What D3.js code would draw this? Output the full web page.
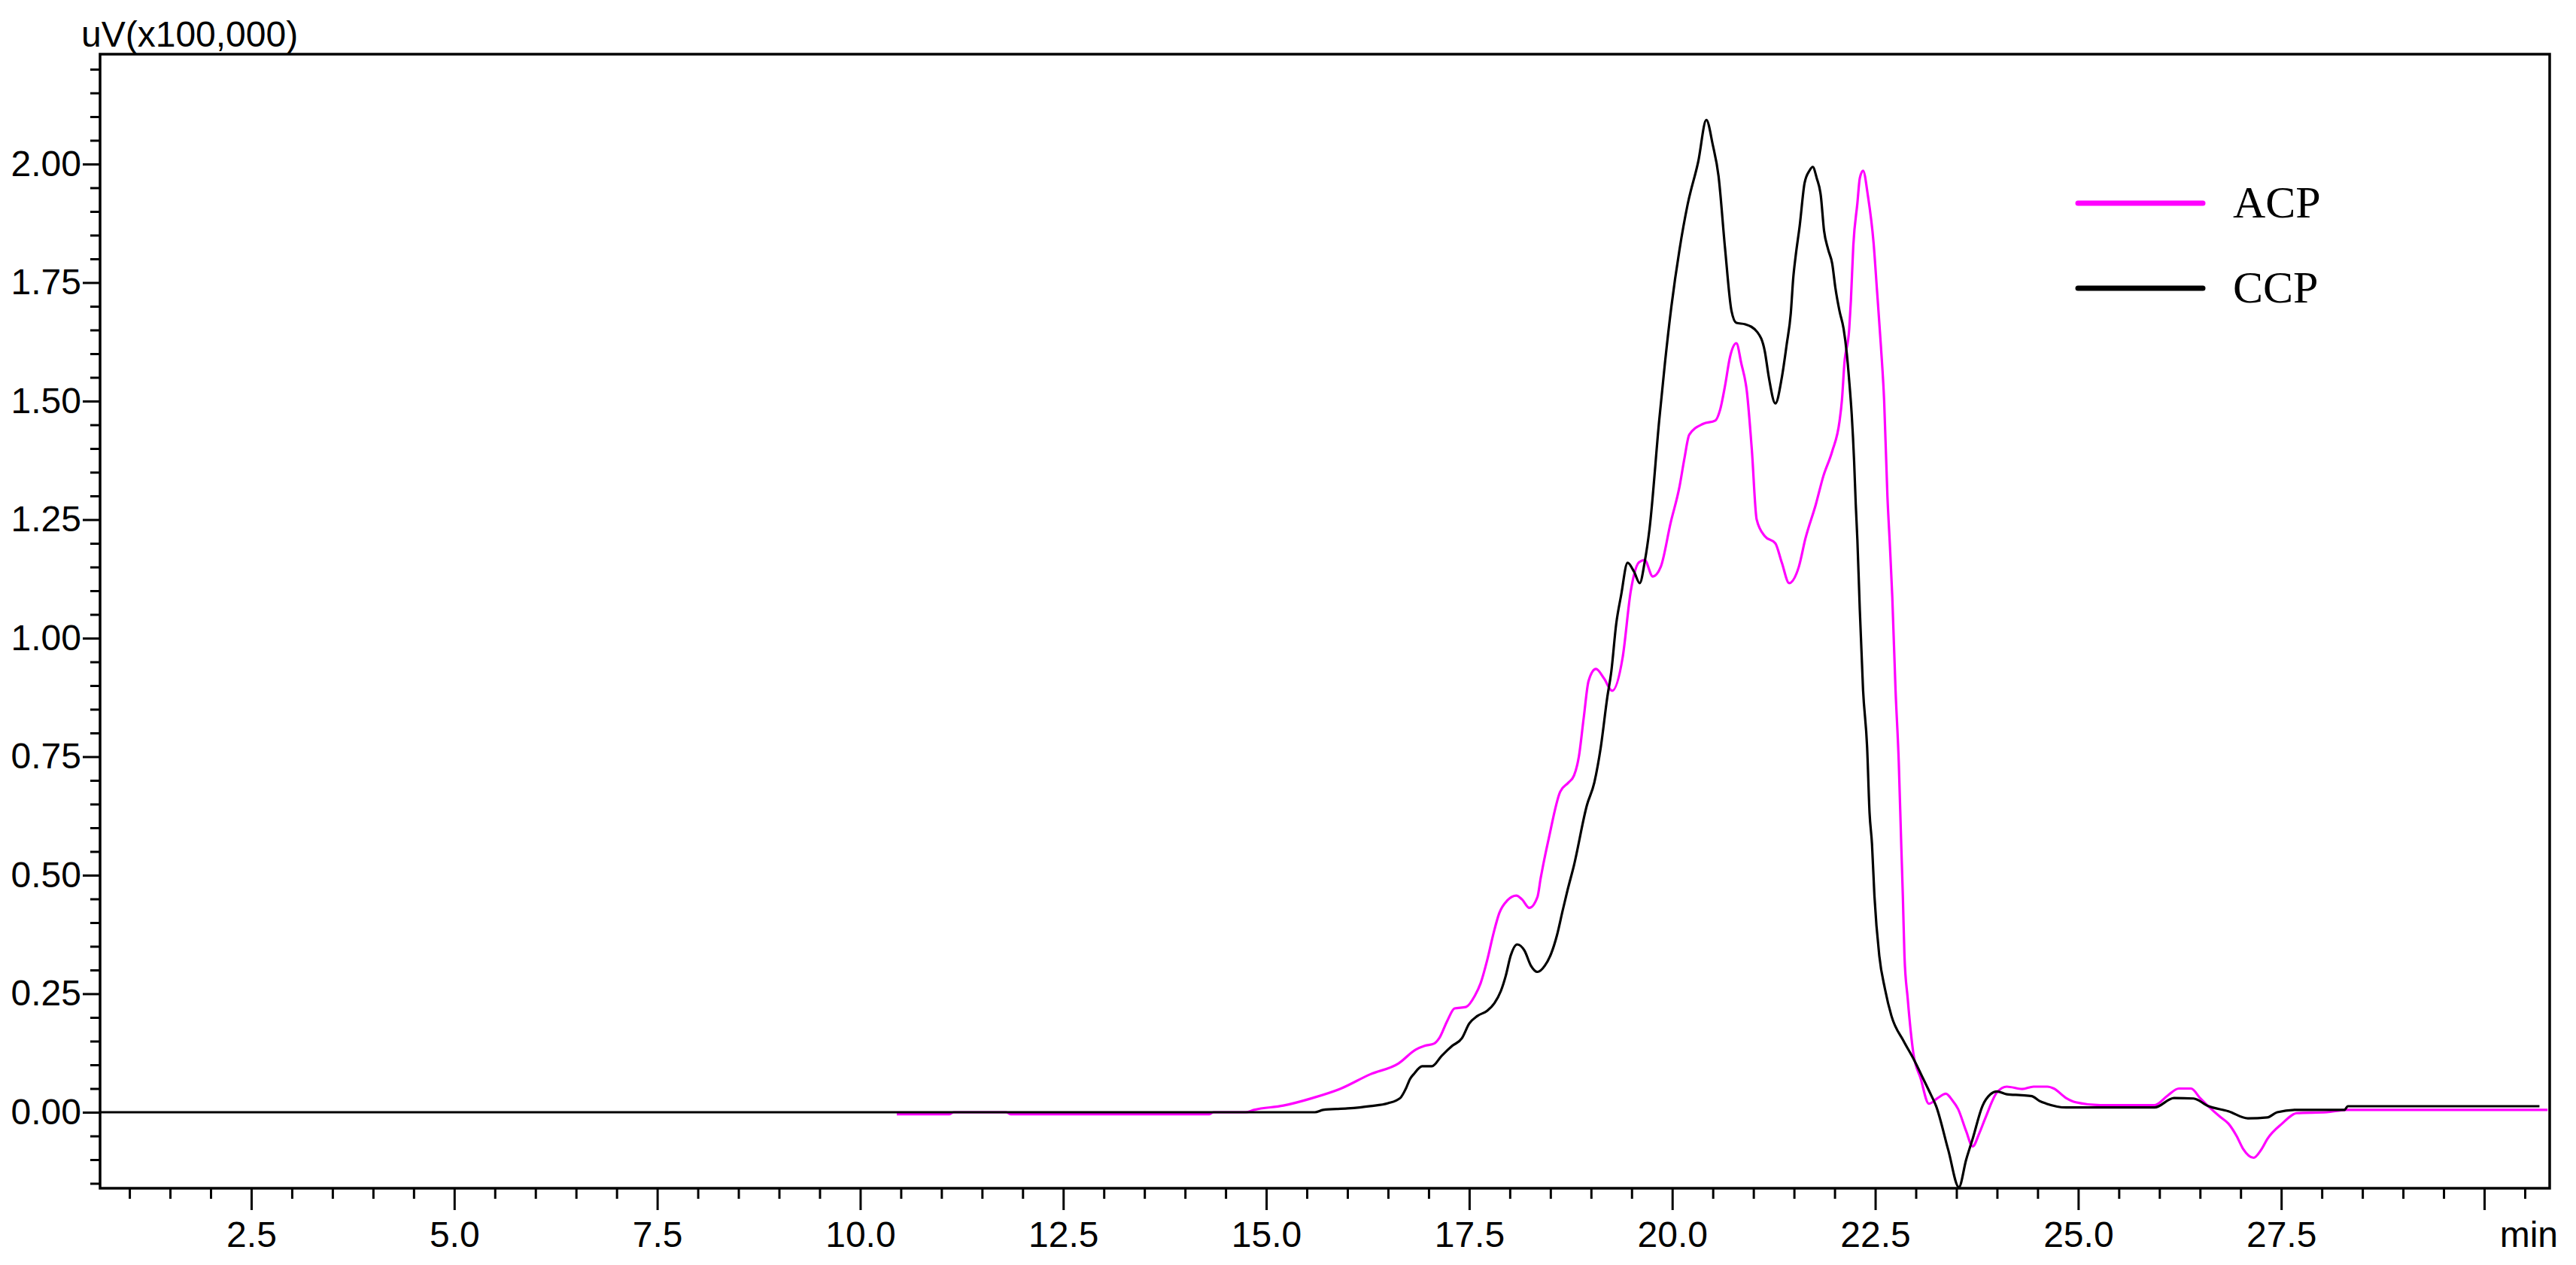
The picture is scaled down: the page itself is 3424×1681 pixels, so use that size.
<!DOCTYPE html>
<html><head><meta charset="utf-8">
<script src="https://cdn.jsdelivr.net/npm/d3@7"></script>
<style>html,body{margin:0;padding:0;background:#fff;} svg{display:block;}</style>
</head><body>
<svg id="chart" width="3424" height="1681"></svg>
<script>
// ---------- data ----------
const seriesNames = ["ACP", "CCP"];
const seriesColors = ["#ff00ff", "#000000"];

// ACP trace: [retention time (min), signal (x100,000 uV)]
const acpPoints = [
  [10.45,-0.004],[11.1,-0.004],[11.15,0],[11.8,0],[11.85,-0.004],[14.3,-0.004],[14.35,0],
  [14.75,0.0],[14.85,0.005],[15.21,0.014],[15.57,0.03],[15.92,0.05],[16.28,0.08],[16.63,0.103],
  [16.84,0.132],[16.95,0.14],[17.07,0.145],[17.13,0.156],[17.23,0.193],[17.32,0.219],[17.46,0.222],
  [17.57,0.246],[17.64,0.272],[17.72,0.32],[17.80,0.378],[17.87,0.42],[17.97,0.447],[18.08,0.457],
  [18.15,0.449],[18.24,0.431],[18.34,0.454],[18.38,0.494],[18.41,0.521],
  [18.48,0.578],[18.62,0.676],[18.72,0.695],[18.79,0.71],[18.85,0.75],[18.91,0.832],[18.97,0.91],
  [19.06,0.935],[19.16,0.915],[19.26,0.889],[19.39,0.96],[19.49,1.10],[19.59,1.16],[19.66,1.165],
  [19.76,1.13],[19.86,1.151],[19.98,1.243],[20.09,1.32],[20.15,1.379],[20.21,1.429],[20.38,1.452],
  [20.53,1.459],[20.59,1.482],[20.65,1.532],[20.71,1.592],[20.79,1.622],[20.85,1.58],[20.92,1.519],
  [20.98,1.398],[21.04,1.25],[21.14,1.215],[21.27,1.20],[21.35,1.159],[21.44,1.116],[21.56,1.151],
  [21.64,1.21],[21.77,1.283],[21.86,1.341],[21.97,1.394],[22.06,1.457],[22.09,1.502],[22.12,1.579],
  [22.18,1.653],[22.20,1.711],[22.23,1.828],[22.28,1.917],[22.31,1.970],[22.35,1.986],[22.41,1.933],
  [22.48,1.833],[22.52,1.738],[22.57,1.616],[22.61,1.50],[22.65,1.30],[22.68,1.198],[22.71,1.087],
  [22.75,0.891],[22.79,0.738],[22.82,0.566],[22.84,0.457],[22.86,0.33],[22.90,0.24],[22.97,0.124],
  [23.06,0.071],[23.16,0.018],[23.27,0.03],[23.37,0.039],[23.45,0.025],[23.52,0.007],[23.62,-0.04],
  [23.70,-0.072],[23.78,-0.045],[23.85,-0.015],[24.0,0.042],[24.12,0.054],[24.31,0.049],[24.45,0.054],
  [24.62,0.054],[24.70,0.05],[24.85,0.03],[24.97,0.021],[25.27,0.015],[25.94,0.015],[26.1,0.035],
  [26.24,0.05],[26.39,0.05],[26.50,0.03],[26.60,0.013],[26.75,-0.01],[26.85,-0.024],[26.95,-0.05],
  [27.03,-0.077],[27.16,-0.096],[27.25,-0.08],[27.33,-0.056],[27.51,-0.024],[27.69,-0.002],
  [28.06,0.0],[28.3,0.005],[30.78,0.005]
];

// CCP trace
const ccpPoints = [
  [0.64,0],[15.6,0],[15.7,0.005],[16.0,0.008],[16.28,0.013],[16.5,0.019],[16.65,0.03],[16.72,0.05],
  [16.77,0.07],[16.82,0.081],[16.92,0.097],[17.04,0.097],[17.16,0.119],[17.29,0.14],[17.41,0.156],
  [17.50,0.187],[17.60,0.203],[17.72,0.214],[17.81,0.23],[17.89,0.256],[17.95,0.288],[18.01,0.33],
  [18.09,0.354],[18.18,0.341],[18.26,0.309],[18.34,0.296],[18.43,0.309],[18.51,0.335],[18.58,0.373],
  [18.65,0.425],[18.71,0.468],[18.79,0.521],[18.95,0.648],[19.04,0.695],[19.12,0.77],[19.2,0.875],
  [19.25,0.93],[19.31,1.03],[19.37,1.09],[19.45,1.159],[19.53,1.14],[19.6,1.116],[19.66,1.16],
  [19.72,1.23],[19.84,1.46],[19.91,1.58],[19.99,1.70],[20.09,1.82],[20.19,1.915],[20.32,2.005],
  [20.42,2.093],[20.5,2.04],[20.57,1.975],[20.65,1.823],[20.73,1.69],[20.79,1.665],[20.9,1.662],
  [21.05,1.645],[21.14,1.605],[21.19,1.55],[21.27,1.495],[21.35,1.55],[21.41,1.62],[21.46,1.685],
  [21.49,1.759],[21.52,1.806],[21.57,1.870],[21.63,1.96],[21.69,1.986],[21.73,1.994],[21.78,1.970],
  [21.83,1.933],[21.87,1.859],[21.92,1.82],[21.97,1.79],[22.01,1.738],[22.06,1.69],[22.11,1.653],
  [22.15,1.60],[22.18,1.542],[22.21,1.473],[22.24,1.373],[22.26,1.283],[22.28,1.208],[22.31,1.06],
  [22.35,0.891],[22.40,0.77],[22.43,0.632],[22.46,0.566],[22.49,0.457],[22.55,0.33],[22.62,0.26],
  [22.70,0.203],[22.85,0.15],[22.97,0.113],[23.09,0.071],[23.18,0.039],[23.25,0.013],[23.40,-0.08],
  [23.53,-0.158],[23.62,-0.1],[23.70,-0.056],[23.82,0.013],[23.92,0.038],[24.0,0.044],[24.12,0.038],
  [24.3,0.036],[24.43,0.034],[24.52,0.024],[24.61,0.018],[24.85,0.010],[25.94,0.010],[26.18,0.030],
  [26.42,0.029],[26.60,0.013],[26.85,0.002],[27.09,-0.013],[27.33,-0.011],[27.45,0.0],[27.69,0.005],
  [28.28,0.005],[28.32,0.0127],[30.68,0.0127]
];

const xMajorTicks = [2.5,5.0,7.5,10.0,12.5,15.0,17.5,20.0,22.5,25.0,27.5,30.0];
const xTickLabels = ["2.5","5.0","7.5","10.0","12.5","15.0","17.5","20.0","22.5","25.0","27.5",""];
const yMajorTicks = [0,0.25,0.5,0.75,1.0,1.25,1.5,1.75,2.0];
const yTickLabels = ["0.00","0.25","0.50","0.75","1.00","1.25","1.50","1.75","2.00"];
const yAxisTitle = "uV(x100,000)";
const xAxisUnit = "min";

// ---------- layout ----------
const m = {left:133, right:3389, top:72, bottom:1579};
const x = d3.scaleLinear().domain([0.638, 30.806]).range([m.left, m.right]);
const y = d3.scaleLinear().domain([-0.1603, 2.2317]).range([m.bottom, m.top]);

const xMinor = d3.range(2, 62).map(i => i * 0.5).filter(v => Math.abs(v / 2.5 - Math.round(v / 2.5)) > 1e-6);
const yMinor = d3.range(-3, 45).map(i => +(i * 0.05).toFixed(2)).filter(v => Math.abs(v / 0.25 - Math.round(v / 0.25)) > 1e-6);

const svg = d3.select("#chart");
const font = "'Liberation Sans', Arial, sans-serif";

svg.append("rect").attr("width",3424).attr("height",1681).attr("fill","#fff");

svg.append("clipPath").attr("id","plotclip").append("rect")
  .attr("x", m.left).attr("y", m.top).attr("width", m.right - m.left).attr("height", m.bottom - m.top);

const line = d3.line().x(d => x(d[0])).y(d => y(d[1])).curve(d3.curveMonotoneX);

svg.append("g").attr("clip-path","url(#plotclip)")
  .selectAll("path").data([acpPoints, ccpPoints]).join("path")
  .attr("d", line).attr("fill","none")
  .attr("stroke", (d,i) => seriesColors[i])
  .attr("stroke-width", 3.2).attr("stroke-linejoin","round");

function styleAxis(g){
  g.select(".domain").remove();
  g.selectAll(".tick line").attr("stroke","#000").attr("stroke-width",3);
  g.selectAll(".tick text").attr("fill","#000").style("font-family", font).style("font-size","48px");
}

svg.append("g").attr("transform",`translate(0,${m.bottom})`)
  .call(d3.axisBottom(x).tickValues(xMinor).tickSize(14).tickFormat(""))
  .call(styleAxis);
svg.append("g").attr("transform",`translate(0,${m.bottom})`)
  .call(d3.axisBottom(x).tickValues(xMajorTicks).tickSize(29).tickPadding(15).tickFormat((d,i) => xTickLabels[i]))
  .call(styleAxis);

svg.append("g").attr("transform",`translate(${m.left},0)`)
  .call(d3.axisLeft(y).tickValues(yMinor).tickSize(13).tickFormat(""))
  .call(styleAxis);
svg.append("g").attr("transform",`translate(${m.left},0)`)
  .call(d3.axisLeft(y).tickValues(yMajorTicks).tickSize(23).tickPadding(2).tickFormat((d,i) => yTickLabels[i]))
  .call(styleAxis);

// frame
svg.append("rect").attr("x", m.left).attr("y", m.top)
  .attr("width", m.right - m.left).attr("height", m.bottom - m.top)
  .attr("fill","none").attr("stroke","#000").attr("stroke-width",3.5);

// axis titles
svg.append("text").attr("x", 108).attr("y", 62).text(yAxisTitle)
  .style("font-family", font).style("font-size","48px").attr("fill","#000");
svg.append("text").attr("x", m.right + 11).attr("y", 1657).attr("text-anchor","end").text(xAxisUnit)
  .style("font-family", font).style("font-size","48px").attr("fill","#000");

// legend
const legend = svg.append("g");
const legY = [270, 383];
seriesNames.forEach((name, i) => {
  legend.append("line").attr("x1", 2762).attr("x2", 2928).attr("y1", legY[i]).attr("y2", legY[i])
    .attr("stroke", seriesColors[i]).attr("stroke-width", 7).attr("stroke-linecap","round");
  legend.append("text").attr("x", 2968).attr("y", legY[i] + 19).text(name)
    .style("font-family","'Liberation Serif','Times New Roman',serif").style("font-size","60px").attr("fill","#000");
});
</script>
</body></html>
